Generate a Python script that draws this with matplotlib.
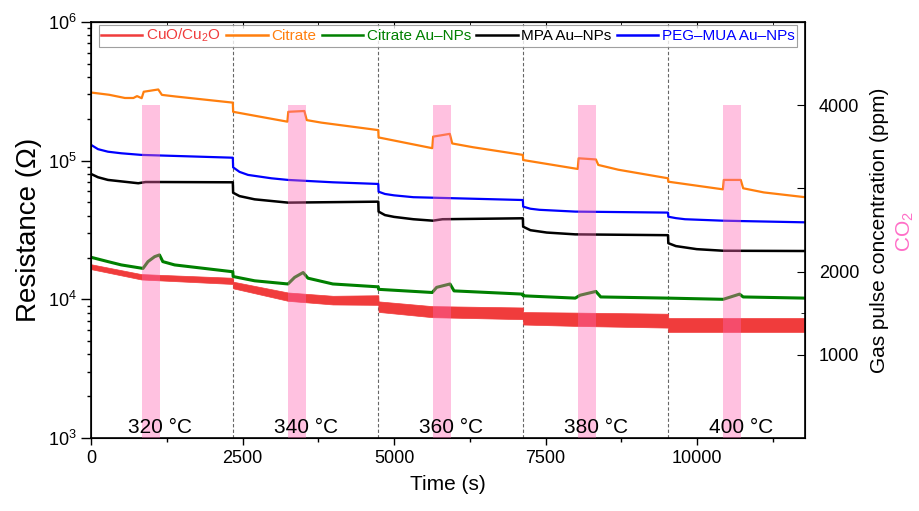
import numpy as np
import matplotlib
matplotlib.use("Agg")
import matplotlib.pyplot as plt
from matplotlib.lines import Line2D
from matplotlib.ticker import FixedLocator, NullFormatter

plt.rcParams['font.family'] = ['Liberation Sans', 'DejaVu Sans']
plt.rcParams['mathtext.default'] = 'regular'

# Citrate (orange)
cit_t = [0, 300, 560, 700, 760, 836, 870, 1110, 1170, 1400, 2340,
         2345, 3240, 3255, 3520, 3560, 3800, 4740,
         4745, 5630, 5645, 5920, 5960, 6300, 7125,
         7130, 8030, 8045, 8330, 8370, 8700, 9520,
         9525, 10425, 10440, 10720, 10760, 11100, 11780]
cit_r = [3.10e5, 2.985e5, 2.83e5, 2.83e5, 2.92e5, 2.82e5, 3.14e5, 3.26e5, 2.98e5, 2.90e5, 2.62e5,
         2.25e5, 1.91e5, 2.25e5, 2.28e5, 1.96e5, 1.88e5, 1.66e5,
         1.47e5, 1.23e5, 1.49e5, 1.56e5, 1.33e5, 1.25e5, 1.10e5,
         1.01e5, 8.71e4, 1.04e5, 1.02e5, 9.31e4, 8.6e4, 7.46e4,
         7.05e4, 6.21e4, 7.26e4, 7.26e4, 6.32e4, 5.9e4, 5.45e4]

# PEG-MUA Au-NPs (blue)
peg_t = [0, 116, 280, 500, 830, 2340,
         2345, 2450, 2591, 2975, 3250, 3990, 4740,
         4745, 4850, 5000, 5318, 7125,
         7130, 7250, 7400, 7990, 9520,
         9525, 9650, 9800, 10420, 11780]
peg_r = [1.30e5, 1.21e5, 1.16e5, 1.13e5, 1.10e5, 1.05e5,
         8.95e4, 8.3e4, 7.89e4, 7.46e4, 7.26e4, 6.98e4, 6.79e4,
         5.97e4, 5.75e4, 5.62e4, 5.45e4, 5.20e4,
         4.66e4, 4.5e4, 4.42e4, 4.29e4, 4.22e4,
         3.94e4, 3.85e4, 3.78e4, 3.69e4, 3.59e4]

# MPA Au-NPs (black)
mpa_t = [0, 116, 280, 780, 900, 1150, 2340,
         2345, 2450, 2700, 3250, 4740,
         4745, 4850, 5000, 5318, 5640, 5800, 7125,
         7130, 7250, 7520, 7990, 9520,
         9525, 9650, 9994, 10430, 11780]
mpa_r = [8.02e4, 7.59e4, 7.26e4, 6.87e4, 7.01e4, 7.01e4, 6.98e4,
         5.87e4, 5.55e4, 5.26e4, 4.98e4, 5.06e4,
         4.29e4, 4.05e4, 3.93e4, 3.78e4, 3.69e4, 3.78e4, 3.84e4,
         3.34e4, 3.15e4, 3.03e4, 2.94e4, 2.90e4,
         2.54e4, 2.42e4, 2.30e4, 2.24e4, 2.23e4]

# Citrate Au-NPs (green)
cau_t = [0, 280, 500, 858, 940, 1050, 1130, 1185, 1380, 2340,
         2345, 2700, 3250, 3360, 3500, 3580, 3990, 4740,
         4745, 5630, 5703, 5923, 5990, 7125,
         7130, 7990, 8068, 8330, 8410, 9520,
         10430, 10700, 10760, 11780]
cau_r = [2.01e4, 1.87e4, 1.77e4, 1.67e4, 1.87e4, 2.03e4, 2.09e4, 1.87e4, 1.77e4, 1.58e4,
         1.46e4, 1.36e4, 1.29e4, 1.44e4, 1.56e4, 1.42e4, 1.29e4, 1.23e4,
         1.18e4, 1.12e4, 1.22e4, 1.29e4, 1.15e4, 1.09e4,
         1.06e4, 1.02e4, 1.07e4, 1.14e4, 1.04e4, 1.02e4,
         1.00e4, 1.09e4, 1.04e4, 1.02e4]

# CuO/Cu2O (red) - noisy trace, upper and lower envelope
cuo_t = [0, 830, 2340, 2345, 3250, 3990, 4740, 4745, 5630, 7125, 7130, 8000, 9520, 9525, 11780]
cuo_hi = [1.79e4, 1.52e4, 1.43e4, 1.34e4, 1.12e4, 1.06e4, 1.07e4, 9.66e3, 8.93e3,
          8.73e3, 8.09e3, 8.02e3, 7.87e3, 7.33e3, 7.33e3]
cuo_lo = [1.65e4, 1.39e4, 1.29e4, 1.20e4, 9.75e3, 9.18e3, 9.12e3, 8.11e3, 7.43e3,
          7.19e3, 6.58e3, 6.43e3, 6.25e3, 5.82e3, 5.82e3]

# CO2 pulses
pulse_start = [842, 3251, 5644, 8036, 10429]
pulse_width = 300
pulse_ppm = 4000
step_times = [2345, 4740, 7130, 9525]
temperatures = [320, 340, 360, 380, 400]

RED, ORANGE, GREEN, BLUE = '#f03c3c', '#ff7f0e', '#008000', '#0000ff'
PINK = '#ff66b2'

fig = plt.figure(figsize=(9.2, 5.11), dpi=100)
ax = fig.add_axes([0.0989, 0.1429, 0.7761, 0.8141])

ax.fill_between(cuo_t, cuo_lo, cuo_hi, color=RED, lw=0.5, edgecolor=RED)
ax.plot(cit_t, cit_r, color=ORANGE, lw=1.6)
ax.plot(cau_t, cau_r, color=GREEN, lw=2.2)
ax.plot(mpa_t, mpa_r, color='black', lw=1.8)
ax.plot(peg_t, peg_r, color=BLUE, lw=1.6)

for ts in step_times:
    ax.axvline(ts, color='#666666', ls=(0, (3, 2)), lw=0.8, zorder=0)

ax.set_yscale('log')
ax.set_ylim(1e3, 1e6)
ax.set_xlim(0, 11780)
ax.set_xticks([0, 2500, 5000, 7500, 10000])
ax.xaxis.set_minor_locator(FixedLocator(np.arange(1250, 11780, 2500)))
ax.tick_params(axis='both', which='major', direction='out', length=5, width=1, labelsize=13)
ax.tick_params(axis='both', which='minor', direction='out', length=3, width=1)
ax.tick_params(axis='y', which='major', length=7)
ax.set_xlabel('Time (s)', fontsize=15, labelpad=6)
ax.set_ylabel('Resistance (Ω)', fontsize=20, labelpad=4)
for s in ax.spines.values():
    s.set_linewidth(1.2)

top = ax.secondary_xaxis('top')
top.set_xticks([0, 2500, 5000, 7500, 10000])
top.xaxis.set_minor_locator(FixedLocator(np.arange(1250, 11780, 2500)))
top.tick_params(which='both', direction='in', labeltop=False, length=4)
top.tick_params(which='minor', length=2)

handles = [Line2D([], [], color=RED, lw=1.8), Line2D([], [], color=ORANGE, lw=1.8),
           Line2D([], [], color=GREEN, lw=1.8), Line2D([], [], color='black', lw=1.8),
           Line2D([], [], color=BLUE, lw=1.8)]
labels = ['CuO/Cu$_2$O', 'Citrate', 'Citrate Au–NPs', 'MPA Au–NPs', 'PEG–MUA Au–NPs']
leg = ax.legend(handles, labels, loc='upper center', bbox_to_anchor=(0.5, 0.997), ncol=5,
                fontsize=11, frameon=True, fancybox=False, edgecolor='#888888',
                handlelength=2.7, handletextpad=0.25, columnspacing=0.35,
                borderpad=0.15, borderaxespad=0.1, labelcolor='linecolor')
leg.get_frame().set_linewidth(0.8)

ax2 = ax.twinx()
ax2.bar(pulse_start, pulse_ppm, width=pulse_width, align='edge', color=PINK, alpha=0.4, lw=0)
ax2.set_ylim(0, 5000)
ax2.set_yticks([1000, 2000, 3000, 4000])
ax2.set_yticklabels(['1000', '2000', '', '4000'])
ax2.yaxis.set_minor_locator(FixedLocator([1500]))
ax2.yaxis.set_minor_formatter(NullFormatter())
ax2.tick_params(axis='y', which='major', direction='in', length=6, labelsize=13, pad=10)
ax2.tick_params(axis='y', which='minor', direction='in', length=3)
ax2.set_ylabel('Gas pulse concentration (ppm)', fontsize=15, labelpad=8)

for ps, temp in zip(pulse_start, temperatures):
    ax2.text(ps + pulse_width, 0.012, f'{temp} °C', transform=ax2.get_xaxis_transform(),
             ha='center', va='baseline', fontsize=15)

fig.text(905 / 920, 1 - 232 / 511, 'CO$_2$', rotation=90, color='#ff6ec7',
         fontsize=15, ha='center', va='center')

fig.savefig('out.png', dpi=100)
